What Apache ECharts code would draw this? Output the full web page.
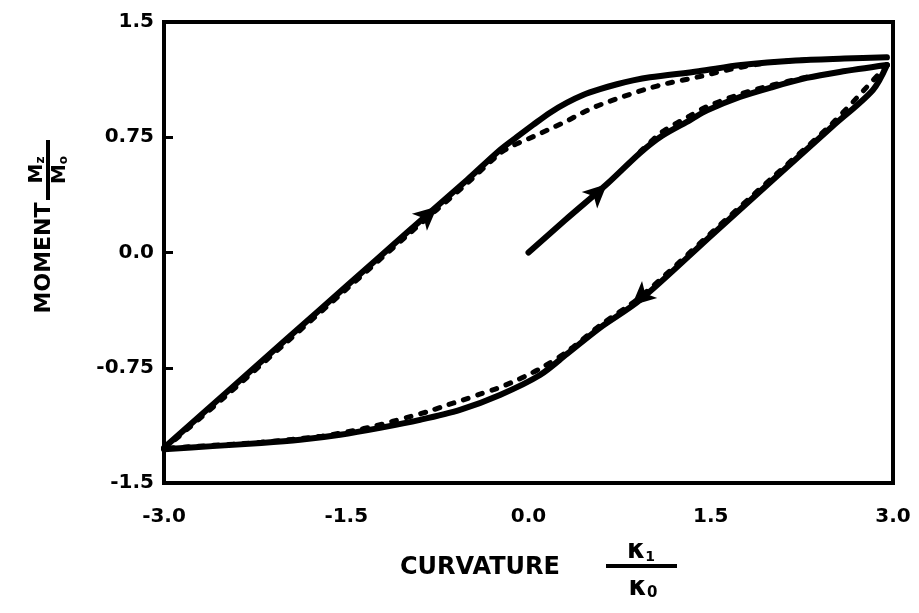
<!DOCTYPE html>
<html>
<head>
<meta charset="utf-8">
<script src="https://cdn.jsdelivr.net/npm/echarts@6/dist/echarts.min.js"></script>
<style>
  html, body { margin: 0; padding: 0; background: #fff; }
  #chart { width: 919px; height: 613px; }
</style>
</head>
<body>
<div id="chart"></div>
<script>
// ascending branch, solid
const upX = [-3.0, -2.5, -2.0, -1.5, -1.0, -0.506, -0.235, -0.095, 0.037, 0.177, 0.317, 0.449, 0.588, 0.728, 0.86, 1.0, 1.4, 1.75, 2.2, 2.6, 2.95];
const upY = [-1.27, -0.92, -0.57, -0.22, 0.13, 0.472, 0.667, 0.752, 0.83, 0.91, 0.975, 1.025, 1.063, 1.095, 1.12, 1.14, 1.18, 1.22, 1.25, 1.262, 1.27];
// ascending branch, dashed
const upDashX = [-3.0, -2.5, -2.0, -1.5, -1.0, -0.506, -0.235, -0.136, -0.004, 0.086, 0.193, 0.317, 0.424, 0.531, 0.654, 0.77, 0.893, 0.975, 1.14, 1.41, 1.68, 1.96, 2.3];
const upDashY = [-1.28, -0.94, -0.59, -0.24, 0.11, 0.45, 0.645, 0.693, 0.739, 0.771, 0.81, 0.856, 0.901, 0.942, 0.98, 1.012, 1.045, 1.065, 1.10, 1.145, 1.195, 1.233, 1.255];
// descending branch, solid
const downX = [2.95, 2.835, 2.5, 2.01, 1.5, 0.918, 0.588, 0.317, 0.095, -0.235, -0.564, -0.893, -1.222, -1.551, -1.88, -2.2, -2.6, -3.0];
const downY = [1.22, 1.058, 0.82, 0.472, 0.107, -0.309, -0.49, -0.66, -0.797, -0.927, -1.024, -1.089, -1.141, -1.186, -1.219, -1.24, -1.26, -1.28];
// descending branch, dashed
const downDashX = [2.95, 2.5, 2.01, 1.5, 0.918, 0.588, 0.317, 0.12, 0.012, -0.128, -0.26, -0.4, -0.54, -0.67, -0.827, -0.975, -1.123, -1.28, -1.43, -1.7, -2.2, -2.6, -3.0];
const downDashY = [1.22, 0.84, 0.49, 0.125, -0.29, -0.475, -0.645, -0.745, -0.79, -0.842, -0.885, -0.922, -0.96, -0.993, -1.035, -1.068, -1.1, -1.132, -1.158, -1.195, -1.235, -1.255, -1.275];
// initial loading from origin
const initX = [0.0, 0.3, 0.646, 0.918, 1.1, 1.33, 1.47, 1.74, 2.01, 2.29, 2.56, 2.95];
const initY = [0.0, 0.21, 0.446, 0.648, 0.76, 0.862, 0.925, 1.012, 1.077, 1.136, 1.175, 1.22];
const initDashX = [0.918, 1.1, 1.33, 1.47, 1.74, 2.01, 2.29];
const initDashY = [0.655, 0.785, 0.89, 0.95, 1.03, 1.09, 1.142];
// arrow heads
const arrowX = [-0.75, 0.646, 0.85];
const arrowY = [0.30, 0.446, -0.345];
const arrowRot = [-48.5, -47, 132];

const xTicks = [-3.0, -1.5, 0.0, 1.5, 3.0];
const yTicks = [-1.5, -0.75, 0.0, 0.75, 1.5];

const FONT = 'DejaVu Sans';
const pairs = (xs, ys) => xs.map((x, i) => [x, ys[i]]);

const solid = { color: '#000', width: 6, cap: 'round', join: 'round' };
const dashed = { color: '#000', width: 5, type: [5, 10], cap: 'round' };

function curve(data, style, z) {
  return {
    type: 'line', data: data, showSymbol: false, smooth: 0.3,
    lineStyle: style, z: z, silent: true
  };
}

const chart = echarts.init(document.getElementById('chart'), null, { renderer: 'canvas' });

const option = {
  animation: false,
  backgroundColor: '#fff',
  grid: { left: 164, right: 26, top: 22, bottom: 130, show: true, borderWidth: 4, borderColor: '#000' },
  xAxis: {
    type: 'value', min: xTicks[0], max: xTicks[xTicks.length - 1], interval: 1.5,
    axisLine: { show: false, onZero: false }, axisTick: { show: false }, splitLine: { show: false },
    axisLabel: {
      margin: 24, color: '#000', fontSize: 20, fontWeight: 'bold', fontFamily: FONT,
      formatter: v => v.toFixed(1)
    }
  },
  yAxis: {
    type: 'value', min: yTicks[0], max: yTicks[yTicks.length - 1], interval: 0.75,
    axisLine: { show: true, onZero: false, lineStyle: { color: '#000', width: 4 } },
    axisTick: { show: true, inside: true, length: 9, lineStyle: { color: '#000', width: 3 } },
    splitLine: { show: false },
    axisLabel: {
      margin: 10, color: '#000', fontSize: 20, fontWeight: 'bold', fontFamily: FONT,
      formatter: v => (Math.abs(v) === 0.75 ? v.toFixed(2) : v.toFixed(1))
    }
  },
  series: [
    curve(pairs(upDashX, upDashY), dashed, 2),
    curve(pairs(downDashX, downDashY), dashed, 2),
    curve(pairs(initDashX, initDashY), dashed, 2),
    curve(pairs(upX, upY), solid, 3),
    curve(pairs(downX, downY), solid, 3),
    curve(pairs(initX, initY), solid, 3),
    {
      type: 'scatter', z: 4, silent: true,
      symbol: 'arrow', symbolSize: [17, 24],
      itemStyle: { color: '#000', opacity: 1 },
      data: arrowX.map((x, i) => ({ value: [x, arrowY[i]], symbolRotate: arrowRot[i] }))
    }
  ],
  graphic: [
    {
      type: 'text', left: 400, top: 556,
      style: { text: 'CURVATURE', font: 'bold 24px "DejaVu Sans"', fill: '#000' }
    },
    {
      type: 'text', x: 641, y: 551,
      style: { text: '{k|κ}{s|1}', align: 'center', verticalAlign: 'middle',
        rich: { k: { font: 'bold 26px "DejaVu Sans"', fill: '#000' }, s: { font: 'bold 14px "DejaVu Sans"', fill: '#000', padding: [12, 0, 0, 0] } } }
    },
    { type: 'line', shape: { x1: 606, y1: 566, x2: 677, y2: 566 }, style: { stroke: '#000', lineWidth: 4 } },
    {
      type: 'text', x: 643, y: 588,
      style: { text: '{k|κ}{s|0}', align: 'center', verticalAlign: 'middle',
        rich: { k: { font: 'bold 26px "DejaVu Sans"', fill: '#000' }, s: { font: 'bold 15px "DejaVu Sans"', fill: '#000', padding: [10, 0, 0, 0] } } }
    },
    {
      type: 'group', x: 44, y: 258, rotation: Math.PI / 2,
      children: [
        { type: 'text', x: 0, y: 0,
          style: { text: 'MOMENT', align: 'center', verticalAlign: 'middle', font: 'bold 22px "DejaVu Sans"', fill: '#000' } },
        { type: 'line', shape: { x1: 58, y1: 4, x2: 118, y2: 4 }, style: { stroke: '#000', lineWidth: 4 } },
        { type: 'text', x: 88, y: -7,
          style: { text: '{m|M}{s|z}', align: 'center', verticalAlign: 'middle',
            rich: { m: { font: 'bold 20px "DejaVu Sans"', fill: '#000' }, s: { font: 'bold 12px "DejaVu Sans"', fill: '#000', padding: [8, 0, 0, 0] } } } },
        { type: 'text', x: 88, y: 16,
          style: { text: '{m|M}{s|o}', align: 'center', verticalAlign: 'middle',
            rich: { m: { font: 'bold 20px "DejaVu Sans"', fill: '#000' }, s: { font: 'bold 12px "DejaVu Sans"', fill: '#000', padding: [8, 0, 0, 0] } } } }
      ]
    }
  ]
};

chart.setOption(option);
</script>
</body>
</html>
